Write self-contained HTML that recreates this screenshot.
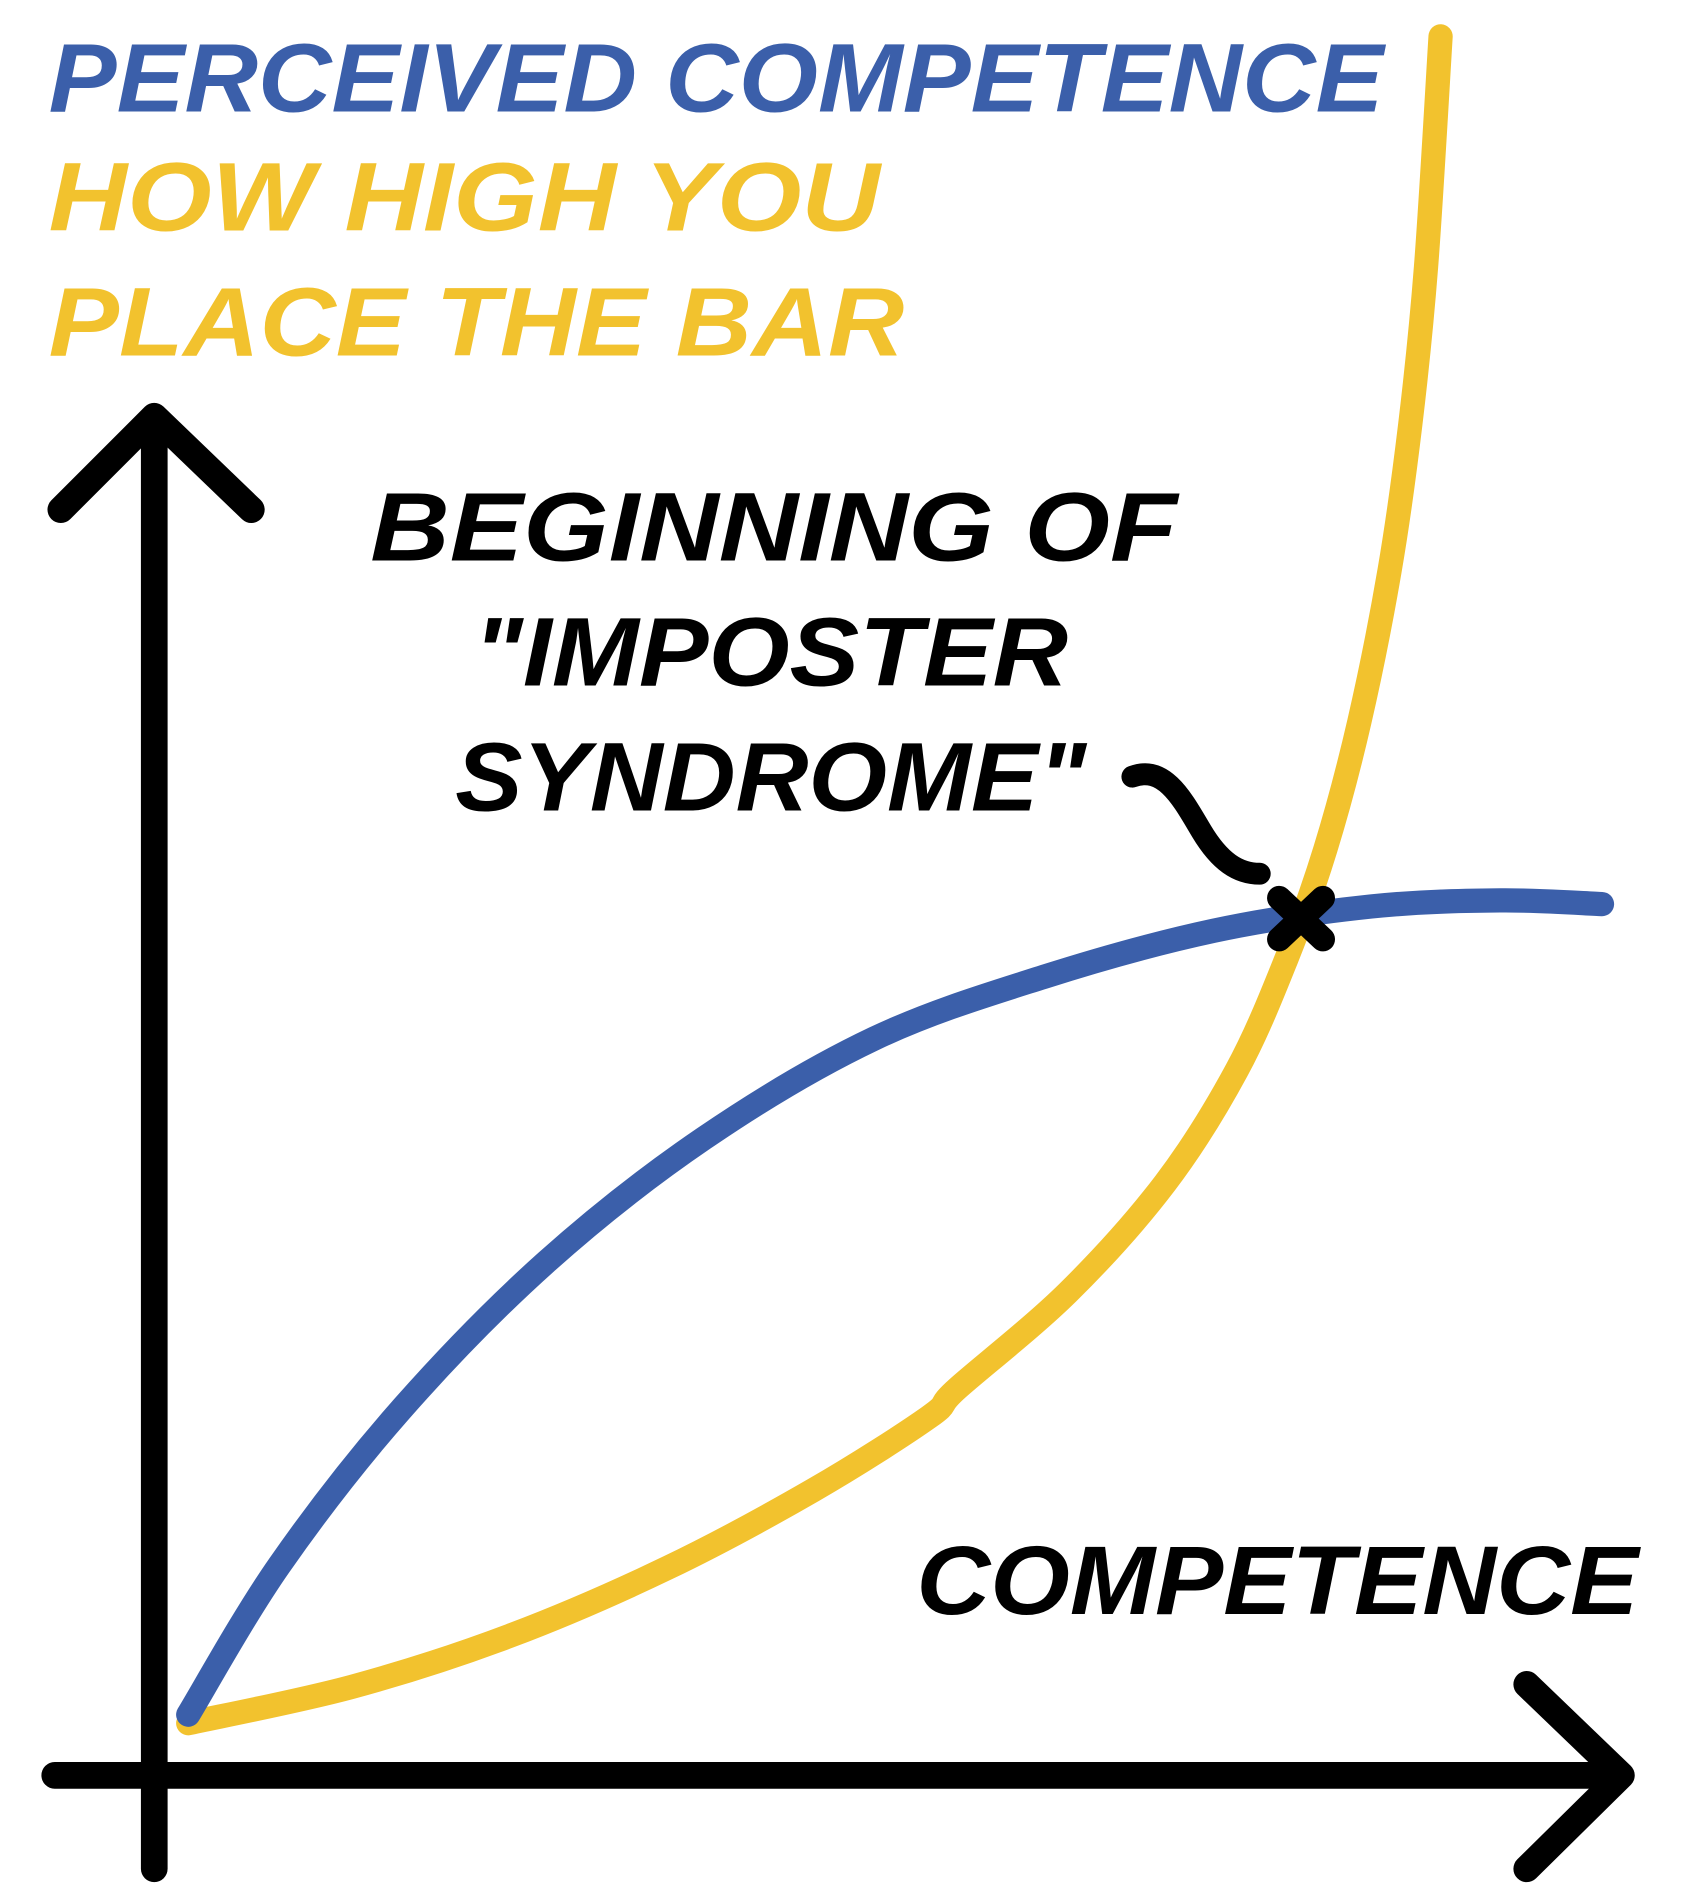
<!DOCTYPE html>
<html><head><meta charset="utf-8"><style>
html,body{margin:0;padding:0;background:#fff}
svg{display:block}
text{font-family:"Liberation Sans",sans-serif;font-weight:bold;font-style:italic}
</style></head><body>
<svg id="chart" width="1681" height="1904" viewBox="0 0 1385 1569" xmlns="http://www.w3.org/2000/svg">
<rect width="1385" height="1569" fill="#fff"/>
<text x="40" y="92" font-size="80" fill="#3b5faa" textLength="1100" lengthAdjust="spacingAndGlyphs">PERCEIVED COMPETENCE</text>
<text x="40" y="190" font-size="80" fill="#f2c22e" textLength="685" lengthAdjust="spacingAndGlyphs">HOW HIGH YOU</text>
<text x="40" y="293" font-size="80" fill="#f2c22e" textLength="705" lengthAdjust="spacingAndGlyphs">PLACE THE BAR</text>
<text x="305" y="462" font-size="80" fill="#000" textLength="665" lengthAdjust="spacingAndGlyphs">BEGINNING OF</text>
<text x="390" y="565" font-size="80" fill="#000" textLength="490" lengthAdjust="spacingAndGlyphs">"IMPOSTER</text>
<text x="375" y="668" font-size="80" fill="#000" textLength="520" lengthAdjust="spacingAndGlyphs">SYNDROME"</text>
<text x="755" y="1330" font-size="80" fill="#000" textLength="595" lengthAdjust="spacingAndGlyphs">COMPETENCE</text>
<g fill="none" stroke="#000" stroke-width="22" stroke-linecap="round" stroke-linejoin="round">
<path d="M127 1540 V345"/>
<path d="M50 420 L127 343 L207 420"/>
<path d="M45 1463 H1335"/>
<path d="M1258 1388 L1336 1463 L1258 1540"/>
<path stroke-width="18" d="M933 640 C960 630 975 660 990 685 C1005 710 1020 720 1038 720"/>
</g>
<g id="series"></g>
<path d="M1054 740 L1090 774 M1090 740 L1054 774" stroke="#000" stroke-width="20" stroke-linecap="round"/>
</svg>
<script>
const competence_blue=[2.8,10.3,20.3,32.3,45.3,59.3,73.3,87.3,100.3,110.9,119.3];
const perceived_blue=[5.0,17.3,30.1,42.3,52.5,60.7,65.8,69.6,71.6,72.1,71.8];
const competence_yellow=[2.8,16.3,29.3,42.3,54.3,63.8,66.2,75.3,83.3,89.2,93.3,96.5,99.3,101.8,103.5,104.8,106.0];
const bar_yellow=[4.3,7.3,11.5,17.1,23.5,29.5,31.9,39.8,48.8,58.1,67.3,76.3,86.8,99.3,111.3,124.3,143.3];
function xScale(v){return 127+v*10;}
function yScale(v){return 1463-v*10;}
function pathFrom(xs,ys){
  const p=xs.map((x,i)=>[xScale(x),yScale(ys[i])]);
  let d='M'+p[0][0]+' '+p[0][1];
  for(let i=0;i<p.length-1;i++){
    const p0=p[i-1]||p[i],p1=p[i],p2=p[i+1],p3=p[i+2]||p2;
    const c1=[p1[0]+(p2[0]-p0[0])/6,p1[1]+(p2[1]-p0[1])/6];
    const c2=[p2[0]-(p3[0]-p1[0])/6,p2[1]-(p3[1]-p1[1])/6];
    d+=` C${c1[0]} ${c1[1]} ${c2[0]} ${c2[1]} ${p2[0]} ${p2[1]}`;
  }
  return d;
}
const g=document.getElementById('series');
const ns='http://www.w3.org/2000/svg';
const y=document.createElementNS(ns,'path');
y.setAttribute('d',pathFrom(competence_yellow,bar_yellow));
y.setAttribute('fill','none');y.setAttribute('stroke','#f2c22e');y.setAttribute('stroke-width','20');y.setAttribute('stroke-linecap','round');y.setAttribute('stroke-linejoin','round');


g.appendChild(y);
const b=document.createElementNS(ns,'path');
b.setAttribute('d',pathFrom(competence_blue,perceived_blue));
b.setAttribute('fill','none');b.setAttribute('stroke','#3b5faa');b.setAttribute('stroke-width','20');b.setAttribute('stroke-linecap','round');b.setAttribute('stroke-linejoin','round');


g.appendChild(b);
</script>
</body></html>
